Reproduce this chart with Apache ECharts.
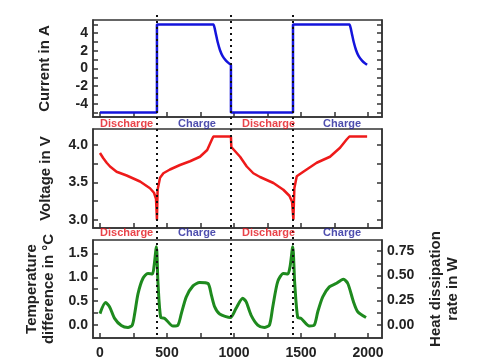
<!DOCTYPE html>
<html>
<head>
<meta charset="utf-8">
<script src="https://cdn.jsdelivr.net/npm/echarts@6/dist/echarts.min.js"></script>
<style>html,body{margin:0;padding:0;background:#fff;}#c{width:485px;height:360px;}</style>
</head>
<body>
<div id="c"></div>
<script>
// ---- data ----
const currentTime = [0, 425, 425, 846, 855, 865, 878, 895, 915, 940, 965, 977, 977, 1440, 1440, 1861, 1870, 1880, 1893, 1910, 1930, 1955, 1980, 1993];
const currentVals = [-5, -5, 5, 5, 4.6, 3.9, 3.0, 2.1, 1.4, 0.9, 0.55, 0.42, -5, -5, 5, 5, 4.6, 3.9, 3.0, 2.1, 1.4, 0.9, 0.55, 0.42];

const voltageTime = [0, 25, 50, 75, 124, 199, 299, 373, 403, 418, 425, 430, 448, 473, 522, 597, 672, 746, 800, 835, 846, 977, 980, 1000, 1045, 1095, 1144, 1194, 1294, 1368, 1413, 1433, 1443, 1450, 1468, 1517, 1617, 1716, 1791, 1840, 1861, 1993];
const voltageVals = [3.89, 3.82, 3.76, 3.71, 3.64, 3.59, 3.51, 3.42, 3.36, 3.28, 3.0, 3.40, 3.56, 3.62, 3.67, 3.73, 3.78, 3.84, 3.93, 4.07, 4.11, 4.11, 3.97, 3.93, 3.84, 3.71, 3.62, 3.57, 3.49, 3.40, 3.32, 3.24, 3.0, 3.42, 3.58, 3.64, 3.76, 3.84, 3.96, 4.07, 4.11, 4.11];

const tempTime = [0, 42, 72, 109, 159, 209, 241, 259, 284, 321, 358, 391, 403, 421, 433, 453, 483, 545, 582, 607, 644, 694, 744, 806, 831, 856, 893, 973, 1015, 1065, 1090, 1127, 1177, 1226, 1264, 1289, 1326, 1368, 1401, 1418, 1438, 1453, 1475, 1500, 1562, 1599, 1625, 1662, 1711, 1761, 1816, 1849, 1891, 1923, 1985];
const tempVals = [0.24, 0.47, 0.38, 0.14, -0.01, -0.05, 0.0, 0.24, 0.66, 0.98, 1.08, 1.07, 1.22, 1.64, 0.87, 0.16, 0.14, -0.02, 0.0, 0.24, 0.59, 0.82, 0.89, 0.87, 0.63, 0.38, 0.23, 0.16, 0.35, 0.56, 0.49, 0.21, 0.0, -0.05, 0.0, 0.38, 0.91, 1.08, 1.07, 1.22, 1.64, 0.87, 0.16, 0.14, -0.02, 0.0, 0.28, 0.59, 0.80, 0.87, 0.96, 0.87, 0.49, 0.28, 0.16];

const phaseBoundaries = [425, 977, 1440];
const phaseNames = ['Discharge', 'Charge', 'Discharge', 'Charge'];
const phaseLabelCenters = [199, 724, 1258, 1806];

const xTicks = [0, 250, 500, 750, 1000, 1250, 1500, 1750, 2000];
const xTickLabels = [0, 500, 1000, 1500, 2000];
const currentTicks = [-5, -4, -3, -2, -1, 0, 1, 2, 3, 4, 5];
const currentTickLabels = [-4, -2, 0, 2, 4];
const voltageTicks = [3.0, 3.25, 3.5, 3.75, 4.0];
const voltageTickLabels = [3.0, 3.5, 4.0];
const tempTicks = [0, 0.25, 0.5, 0.75, 1.0, 1.25, 1.5];
const tempTickLabels = [0.0, 0.5, 1.0, 1.5];
const heatTicks = [0, 0.125, 0.25, 0.375, 0.5, 0.625, 0.75];
const heatTickLabels = [0.0, 0.25, 0.5, 0.75];

// ---- styling/layout ----
const FONT = 'Liberation Sans, Arial, sans-serif';
const AX = '#333';
const PHASE_COLORS = { Discharge: '#e3141c', Charge: '#22229a' };
const LEFT = 93, RIGHT = 103;
const panels = [
  { top: 20, height: 97 },
  { top: 129, height: 99 },
  { top: 240, height: 98 }
];
const XMIN = -52, XMAX = 2104;
const labelRowY = [123.5, 233];
const overlayTop = 15, overlayBottomPx = 338;

function zip(a, b) { return a.map((v, i) => [v, b[i]]); }

const chart = echarts.init(document.getElementById('c'), null, { renderer: 'canvas' });

const grids = panels.map(p => ({
  left: LEFT, right: RIGHT, top: p.top, height: p.height,
  show: true, borderColor: AX, borderWidth: 1.5, backgroundColor: 'transparent'
}));
grids.push({ left: LEFT, right: RIGHT, top: overlayTop, bottom: 360 - overlayBottomPx, show: false });

const xAxes = [0, 1, 2].map(i => ({
  type: 'value', gridIndex: i, position: 'bottom', min: XMIN, max: XMAX,
  axisLine: { show: true, onZero: false, lineStyle: { color: AX, width: 1.5 } },
  axisTick: { show: true, inside: true, length: 5, customValues: xTicks, lineStyle: { color: AX, width: 1.5 } },
  splitLine: { show: false },
  axisLabel: {
    show: i === 2, margin: 8, color: '#222', fontFamily: FONT, fontWeight: 'bold', fontSize: 14,
    customValues: xTickLabels, formatter: v => String(Number(v))
  }
}));
xAxes.push({ type: 'value', gridIndex: 3, min: XMIN, max: XMAX, show: false });

function yAx(grid, pos, min, max, ticks, labels, decimals, showLabel, name, nameGap) {
  return {
    type: 'value', gridIndex: grid, position: pos, min, max,
    axisLine: { show: true, onZero: false, lineStyle: { color: AX, width: 1.5 } },
    axisTick: { show: true, inside: true, length: 5, customValues: ticks, lineStyle: { color: AX, width: 1.5 } },
    splitLine: { show: false },
    axisLabel: {
      show: showLabel, margin: 5, color: '#222', fontFamily: FONT, fontWeight: 'bold', fontSize: 14,
      customValues: labels, formatter: v => Number(v).toFixed(decimals)
    },
    name: name || '', nameLocation: 'middle', nameGap: nameGap || 0, nameRotate: 90,
    nameTextStyle: { color: '#222', fontFamily: FONT, fontWeight: 'bold', fontSize: 15, lineHeight: 17, align: 'center' }
  };
}

const yAxes = [
  yAx(0, 'left', -5.5, 5.5, currentTicks, currentTickLabels, 0, true, 'Current in A', 40),
  yAx(0, 'right', -5.5, 5.5, currentTicks, currentTickLabels, 0, false),
  yAx(1, 'left', 2.89, 4.21, voltageTicks, voltageTickLabels, 1, true, 'Voltage in V', 39),
  yAx(1, 'right', 2.89, 4.21, voltageTicks, voltageTickLabels, 1, false),
  yAx(2, 'left', -0.27, 1.78, tempTicks, tempTickLabels, 1, true, 'Temperature\ndifference in \u00b0C', 29),
  yAx(2, 'right', -0.132, 0.861, heatTicks, heatTickLabels, 2, true, 'Heat dissipation\nrate in W', 45),
  { type: 'value', gridIndex: 3, min: 0, max: overlayBottomPx - overlayTop, inverse: true, show: false }
];

const labelData = [];
phaseNames.forEach((n, i) => {
  labelRowY.forEach(py => {
    labelData.push({
      value: [phaseLabelCenters[i], py - overlayTop],
      label: { show: true, formatter: n, color: PHASE_COLORS[n] }
    });
  });
});

const series = [
  {
    type: 'line', xAxisIndex: 3, yAxisIndex: 6, data: [], z: 1, silent: true,
    markLine: {
      symbol: 'none', silent: true, label: { show: false },
      lineStyle: { color: '#111', type: [2, 4], width: 2 },
      data: phaseBoundaries.map(b => ({ xAxis: b }))
    }
  },
  {
    type: 'line', xAxisIndex: 0, yAxisIndex: 0, data: zip(currentTime, currentVals), smooth: 0.15,
    showSymbol: false, symbol: 'none', z: 3, lineStyle: { color: '#1414dc', width: 2.5 }
  },
  {
    type: 'line', xAxisIndex: 1, yAxisIndex: 2, data: zip(voltageTime, voltageVals),
    showSymbol: false, symbol: 'none', z: 3, lineStyle: { color: '#ee1a1a', width: 2.5 }
  },
  {
    type: 'line', xAxisIndex: 2, yAxisIndex: 4, data: zip(tempTime, tempVals), smooth: 0.25,
    showSymbol: false, symbol: 'none', z: 3, lineStyle: { color: '#1e8a1e', width: 3 }
  },
  {
    type: 'scatter', xAxisIndex: 3, yAxisIndex: 6, symbolSize: 0, z: 5, silent: true,
    data: labelData,
    label: { position: 'inside', fontFamily: FONT, fontWeight: 'bold', fontSize: 11 }
  }
];

chart.setOption({
  animation: false,
  backgroundColor: '#fff',
  grid: grids,
  xAxis: xAxes,
  yAxis: yAxes,
  series
});
</script>
</body>
</html>
